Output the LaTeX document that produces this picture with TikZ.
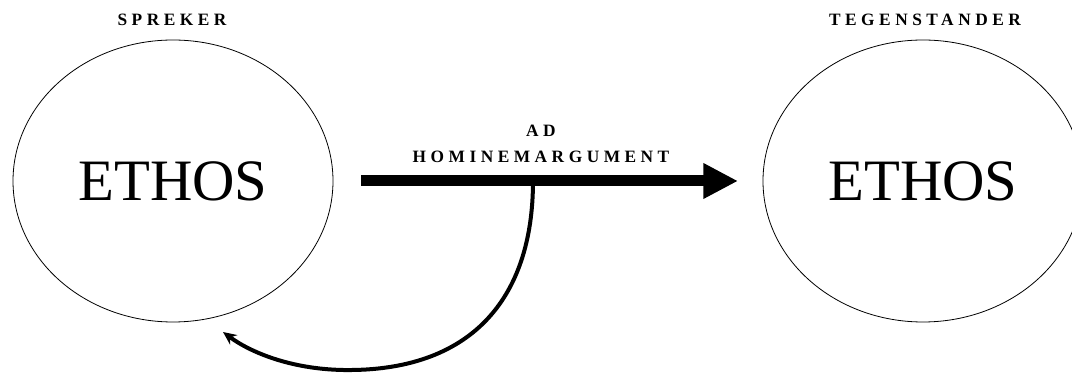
\documentclass[tikz,border=0pt]{standalone}
\usepackage{fontspec}
\setmainfont{Liberation Serif}
\usetikzlibrary{shapes.geometric,arrows.meta}
\tikzset{
  ethosbox/.style={ellipse, draw, line width=0.6pt, minimum width=240pt, minimum height=211.5pt, inner sep=0pt, font=\fontsize{44}{50}\selectfont},
  caplabel/.style={font=\bfseries\fontsize{13}{19.5}\selectfont\addfontfeatures{LetterSpace=26}, inner sep=0pt, align=center},
  mainarrow/.style={line width=8.25pt, -{Triangle[length=26pt,width=25pt]}},
  backarrow/.style={line width=3pt, -{Stealth[length=10pt,width=9pt]}}
}
\begin{document}
\begin{tikzpicture}[x=0.75pt,y=-0.75pt]
\useasboundingbox (0,0) rectangle (1072,373);
\clip (0,0) rectangle (1072,373);
\node[ethosbox] (L) at (173,181) {ETHOS};
\node[ethosbox] (R) at (923,181) {ETHOS};
\node[caplabel] (ls) at (172,20) {SPREKER};
\node[caplabel] (rs) at (925,20) {TEGENSTANDER};
\node[caplabel] (mid) at (541,144) {AD\\HOMINEMARGUMENT};
\coordinate (a0) at (361,181);
\coordinate (a1) at (738,181);
\draw[mainarrow] (a0) -- (a1);
\coordinate (c0) at (533,181);
\coordinate (c1) at (223,332);
\draw[backarrow] (c0) .. controls (533,300) and (470,372) .. (343,370) .. controls (290,369) and (250,352) .. (c1);
\end{tikzpicture}
\end{document}
